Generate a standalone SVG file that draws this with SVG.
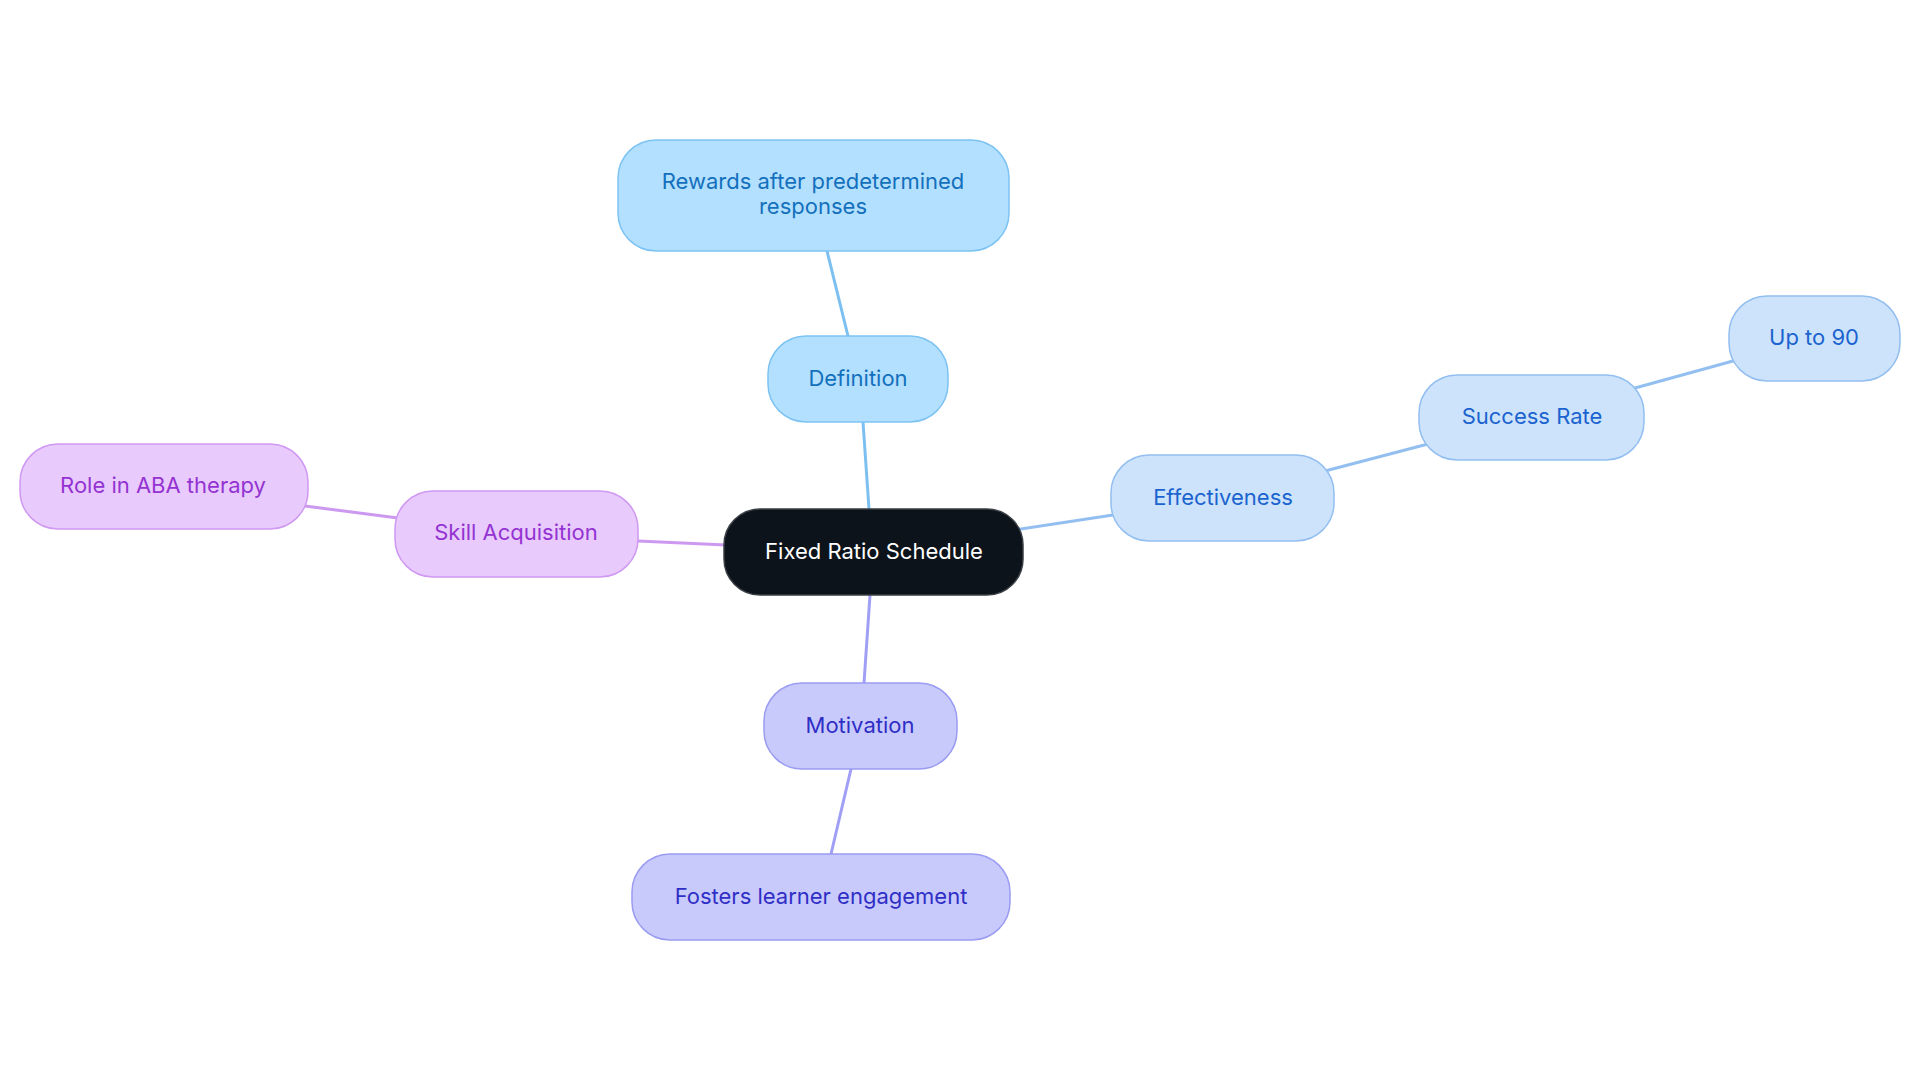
<svg xmlns="http://www.w3.org/2000/svg" width="1920" height="1083" viewBox="0 0 1920 1083">
<style>
  text { font-family: Inter, "Noto Sans", "Liberation Sans", sans-serif; font-size: 22px; text-anchor: middle; }
  .n rect { stroke-width: 1.5; }
  .root rect { fill: #0D131B; stroke: #3A3F45; }
  .root text { fill: #FFFFFF; }
  .sky rect { fill: #B3E0FE; stroke: #7CC3F3; }
  .sky text { fill: #1370BD; }
  .blue rect { fill: #CDE3FB; stroke: #93BFF0; }
  .blue text { fill: #1B63CF; }
  .ind rect { fill: #C9CAFC; stroke: #9A9CF1; }
  .ind text { fill: #2F2FC6; }
  .vio rect { fill: #E8CBFC; stroke: #CF98F1; }
  .vio text { fill: #9433D2; }
  .e line { stroke-width: 3; stroke-linecap: round; fill: none; }
  .es { stroke: #7CC0F2; }
  .eb { stroke: #93BFF0; }
  .ei { stroke: #A09FF5; }
  .ev { stroke: #CC98F0; }
</style>
<rect width="1920" height="1083" fill="#FFFFFF"/>
<g id="connectors" class="e">
  <line class="es" x1="827" y1="251" x2="848" y2="336"/>
  <line class="es" x1="863" y1="422" x2="869" y2="509"/>
  <line class="eb" x1="1015" y1="530" x2="1113" y2="515"/>
  <line class="eb" x1="1325" y1="471" x2="1428" y2="444"/>
  <line class="eb" x1="1635" y1="388" x2="1733" y2="361"/>
  <line class="ei" x1="870" y1="595" x2="864" y2="683"/>
  <line class="ei" x1="851" y1="769" x2="831" y2="854"/>
  <line class="ev" x1="726" y1="545" x2="638" y2="541"/>
  <line class="ev" x1="398" y1="518" x2="305" y2="506"/>
</g>
<g id="node-root" class="n root">
  <rect x="724" y="509" width="299" height="86" rx="36"/>
  <text x="874" y="559">Fixed Ratio Schedule</text>
</g>
<g id="node-definition" class="n sky">
  <rect x="768" y="336" width="180" height="86" rx="38"/>
  <text x="858" y="386">Definition</text>
</g>
<g id="node-rewards" class="n sky">
  <rect x="618" y="140" width="391" height="111" rx="38"/>
  <text x="813" y="189">Rewards after predetermined</text>
  <text x="813" y="214">responses</text>
</g>
<g id="node-effectiveness" class="n blue">
  <rect x="1111" y="455" width="223" height="86" rx="38"/>
  <text x="1223" y="505">Effectiveness</text>
</g>
<g id="node-success" class="n blue">
  <rect x="1419" y="375" width="225" height="85" rx="38"/>
  <text x="1532" y="424">Success Rate</text>
</g>
<g id="node-upto90" class="n blue">
  <rect x="1729" y="296" width="171" height="85" rx="38"/>
  <text x="1814" y="345">Up to 90</text>
</g>
<g id="node-motivation" class="n ind">
  <rect x="764" y="683" width="193" height="86" rx="38"/>
  <text x="860" y="733">Motivation</text>
</g>
<g id="node-fosters" class="n ind">
  <rect x="632" y="854" width="378" height="86" rx="38"/>
  <text x="821" y="904">Fosters learner engagement</text>
</g>
<g id="node-skill" class="n vio">
  <rect x="395" y="491" width="243" height="86" rx="38"/>
  <text x="516" y="540">Skill Acquisition</text>
</g>
<g id="node-role" class="n vio">
  <rect x="20" y="444" width="288" height="85" rx="38"/>
  <text x="163" y="493">Role in ABA therapy</text>
</g>
</svg>
